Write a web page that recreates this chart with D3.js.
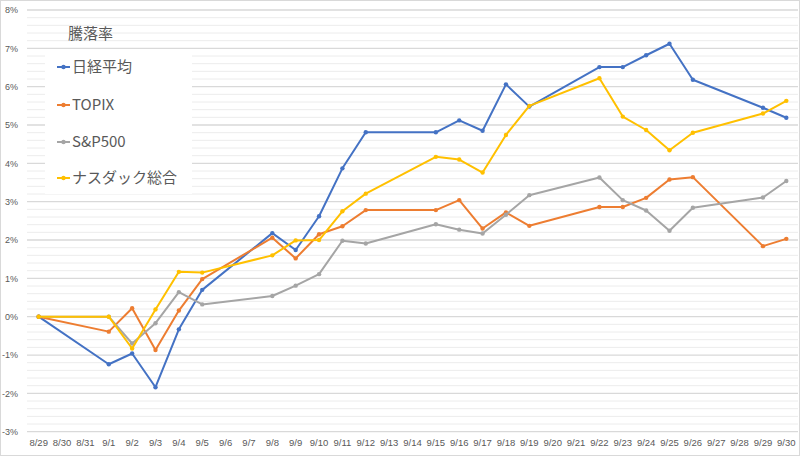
<!DOCTYPE html>
<html><head><meta charset="utf-8">
<script src="https://cdn.jsdelivr.net/npm/d3@7"></script>
<style>body{margin:0;background:#fff}svg{display:block;font-family:"Noto Sans CJK JP","Noto Sans",sans-serif}</style>
</head><body><svg id="c" width="800" height="456"></svg>
<script>
const categories = ["8/29","8/30","8/31","9/1","9/2","9/3","9/4","9/5","9/6","9/7","9/8","9/9","9/10","9/11","9/12","9/13","9/14","9/15","9/16","9/17","9/18","9/19","9/20","9/21","9/22","9/23","9/24","9/25","9/26","9/27","9/28","9/29","9/30"];
const nikkei = [0,null,null,-1.24,-0.96,-1.84,-0.33,0.70,null,null,2.18,1.74,2.62,3.87,4.81,null,null,4.81,5.12,4.85,6.06,5.48,null,null,6.51,6.51,6.82,7.12,6.18,null,null,5.45,5.19];
const topix = [0,null,null,-0.39,0.22,-0.87,0.16,0.98,null,null,2.06,1.52,2.15,2.36,2.78,null,null,2.78,3.04,2.30,2.72,2.37,null,null,2.86,2.86,3.10,3.58,3.64,null,null,1.84,2.03];
const sp500 = [0,null,null,0,-0.70,-0.17,0.64,0.32,null,null,0.54,0.81,1.11,1.98,1.91,null,null,2.41,2.27,2.17,2.66,3.17,null,null,3.63,3.04,2.77,2.24,2.84,null,null,3.11,3.54];
const nasdaq = [0,null,null,0,-0.83,0.19,1.17,1.15,null,null,1.60,1.99,2.00,2.75,3.21,null,null,4.17,4.10,3.76,4.74,5.50,null,null,6.22,5.22,4.87,4.34,4.80,null,null,5.30,5.63];
const seriesNames = ["日経平均","TOPIX","S&P500","ナスダック総合"];
const seriesColors = ["#4472C4","#ED7D31","#A5A5A5","#FFC000"];
const yTicks = [-3,-2,-1,0,1,2,3,4,5,6,7,8];
const title = "騰落率";

const svg = d3.select("#c");
const L = 27, R = 798, T = 10, B = 431.7;
const x = d3.scaleBand().domain(categories).range([L, R]);
const y = d3.scaleLinear().domain([-3, 8]).range([B, T]);

svg.append("rect").attr("x",0.5).attr("y",0.5).attr("width",799).attr("height",455).attr("fill","#fff").attr("stroke","#d9d9d9");

// minor gridlines
const minor = d3.range(-3, 8.001, 0.2).filter(v => Math.abs(v - Math.round(v)) > 0.01);
svg.append("g").selectAll("line").data(minor).join("line")
  .attr("x1", L).attr("x2", R).attr("y1", d => y(d)).attr("y2", d => y(d))
  .attr("stroke", "#ececec").attr("stroke-width", 1);
// major gridlines
svg.append("g").selectAll("line").data(yTicks).join("line")
  .attr("x1", L).attr("x2", R).attr("y1", d => y(d)).attr("y2", d => y(d))
  .attr("stroke", "#d9d9d9").attr("stroke-width", 1.3);

// y axis labels
const yAxis = d3.axisLeft(y).tickValues(yTicks).tickFormat(d => d + "%").tickSize(0).tickPadding(9);
const ya = svg.append("g").attr("transform", `translate(${L},0)`).call(yAxis);
ya.select(".domain").remove();
ya.selectAll("text").attr("fill","#595959").attr("font-size","9px").attr("font-family","Liberation Sans, Arial, sans-serif");

// x axis labels
const xAxis = d3.axisBottom(x).tickSize(0).tickPadding(8);
const xa = svg.append("g").attr("transform", `translate(0,${B})`).call(xAxis);
xa.select(".domain").remove();
xa.selectAll("text").attr("fill","#595959").attr("font-size","9.5px").attr("font-family","Liberation Sans, Arial, sans-serif");

// lines
const allSeries = [nikkei, topix, sp500, nasdaq];
const cx = c => x(c) + x.bandwidth() / 2;
const line = d3.line().x(d => cx(d.c)).y(d => y(d.v));
allSeries.forEach((vals, i) => {
  const pts = categories.map((c, j) => ({c, v: vals[j]})).filter(d => d.v !== null);
  const g = svg.append("g");
  g.append("path").datum(pts).attr("d", line).attr("fill","none")
    .attr("stroke", seriesColors[i]).attr("stroke-width", 2).attr("stroke-linejoin","round");
  g.selectAll("circle").data(pts).join("circle")
    .attr("cx", d => cx(d.c)).attr("cy", d => y(d.v)).attr("r", 2.2).attr("fill", seriesColors[i]);
});

// title
svg.append("text").attr("x", 68).attr("y", 39).text(title)
  .attr("fill","#595959").attr("font-size","15px");

// legend
const lg = svg.append("g");
lg.append("rect").attr("x",45).attr("y",49).attr("width",147).attr("height",145).attr("fill","#fff");
const ly = [67, 105, 142, 178];
seriesNames.forEach((n, i) => {
  lg.append("line").attr("x1",57).attr("x2",70).attr("y1",ly[i]).attr("y2",ly[i]).attr("stroke",seriesColors[i]).attr("stroke-width",2);
  lg.append("circle").attr("cx",63.5).attr("cy",ly[i]).attr("r",2.2).attr("fill",seriesColors[i]);
  lg.append("text").attr("x",72).attr("y",ly[i]).attr("dy","0.36em").text(n)
    .attr("fill","#595959").attr("font-size","15px");
});
</script></body></html>
